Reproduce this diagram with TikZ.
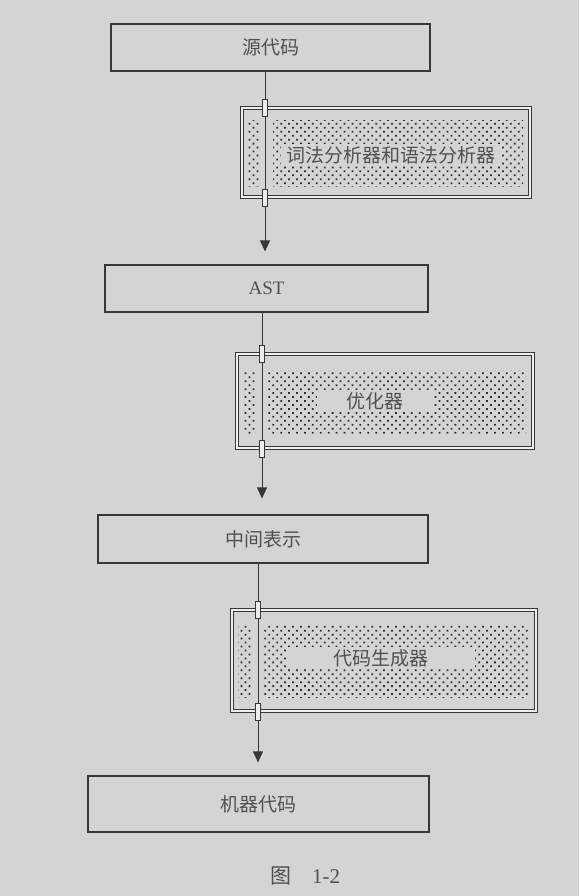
\documentclass[tikz,border=0pt]{standalone}
\usepackage{fontspec}
\setmainfont{Liberation Serif}
\newfontfamily\cjk{Noto Sans CJK SC}
\usetikzlibrary{arrows.meta,patterns.meta}

\definecolor{paper}{RGB}{212,212,210}
\definecolor{ink}{RGB}{55,55,55}
\definecolor{txt}{RGB}{80,80,80}

\tikzset{
  databox/.style={draw=ink, line width=1.2pt, fill=paper, text=txt, inner sep=0pt,
    font=\cjk\fontsize{19}{22}\selectfont},
  stagebox/.style={draw=ink, line width=1pt, double=paper!40!white, double distance=2pt, inner sep=0pt},
  dotarea/.style={pattern={Dots[distance=5.6pt, angle=45, radius=1.25pt]}, pattern color=ink!85!black},
  joint/.style={draw=ink, line width=0.9pt, fill=paper!40!white, minimum width=5pt, minimum height=17pt, inner sep=0pt},
  flow/.style={draw=ink, line width=1pt, -{Triangle[length=11pt,width=10pt]}},
  stagelabel/.style={fill=paper, text=txt, inner xsep=6pt, inner ysep=2pt,
    font=\cjk\fontsize{19}{22}\selectfont}
}

\begin{document}
\begin{tikzpicture}[x=1pt, y=-1pt]
  % paper
  \fill[paper] (0,0) rectangle (579,896);
  \useasboundingbox (0,0) rectangle (579,896);

  % data
  \node[databox, minimum width=319pt, minimum height=47pt] (src) at (270.5,47.5) {源代码};
  \node[databox, minimum width=323pt, minimum height=47pt, font=\fontsize{19}{22}\selectfont] (ast) at (266.5,288.5) {AST};
  \node[databox, minimum width=330pt, minimum height=48pt] (ir) at (263,539) {中间表示};
  \node[databox, minimum width=341pt, minimum height=56pt] (mc) at (258.5,804) {机器代码};

  % stages
  \node[stagebox, minimum width=288pt, minimum height=89pt] (lexbox) at (386,152.5) {};
  \node[stagebox, minimum width=296pt, minimum height=94pt] (optbox) at (385,401) {};
  \node[stagebox, minimum width=304pt, minimum height=101pt] (genbox) at (384,660.5) {};

  % dotted fill
  \fill[dotarea] (247,121) rectangle (260,187);
  \fill[dotarea] (273,121) rectangle (523,187);
  \fill[dotarea] (243,370) rectangle (256,434);
  \fill[dotarea] (268,370) rectangle (526,434);
  \fill[dotarea] (238,625) rectangle (251,697);
  \fill[dotarea] (264,625) rectangle (528,697);

  % flow
  \coordinate (f1) at (265,0);
  \coordinate (f2) at (262,0);
  \coordinate (f3) at (258,0);
  \draw[flow, shorten >=13pt] (src.south -| f1) -- (ast.north -| f1);
  \draw[flow, shorten >=16pt] (ast.south -| f2) -- (ir.north -| f2);
  \draw[flow, shorten >=13pt] (ir.south -| f3) -- (mc.north -| f3);

  \node[joint] (lexin) at (lexbox.north -| f1) {};
  \node[joint] (lexout) at (lexbox.south -| f1) {};
  \node[joint] (optin) at (optbox.north -| f2) {};
  \node[joint] (optout) at (optbox.south -| f2) {};
  \node[joint] (genin) at (genbox.north -| f3) {};
  \node[joint] (genout) at (genbox.south -| f3) {};

  % stage names
  \node[stagelabel] (lexer) at (391,155) {词法分析器和语法分析器};
  \node[stagelabel, minimum width=116pt] (optim) at (375,401) {优化器};
  \node[stagelabel, minimum width=187pt] (codegen) at (381,658) {代码生成器};

  % caption
  \node[anchor=west, text=txt, font=\fontsize{21}{24}\selectfont, inner sep=0pt] (cap) at (270,876) {{\cjk 图}\hspace{21pt}1-2};
\end{tikzpicture}
\end{document}
